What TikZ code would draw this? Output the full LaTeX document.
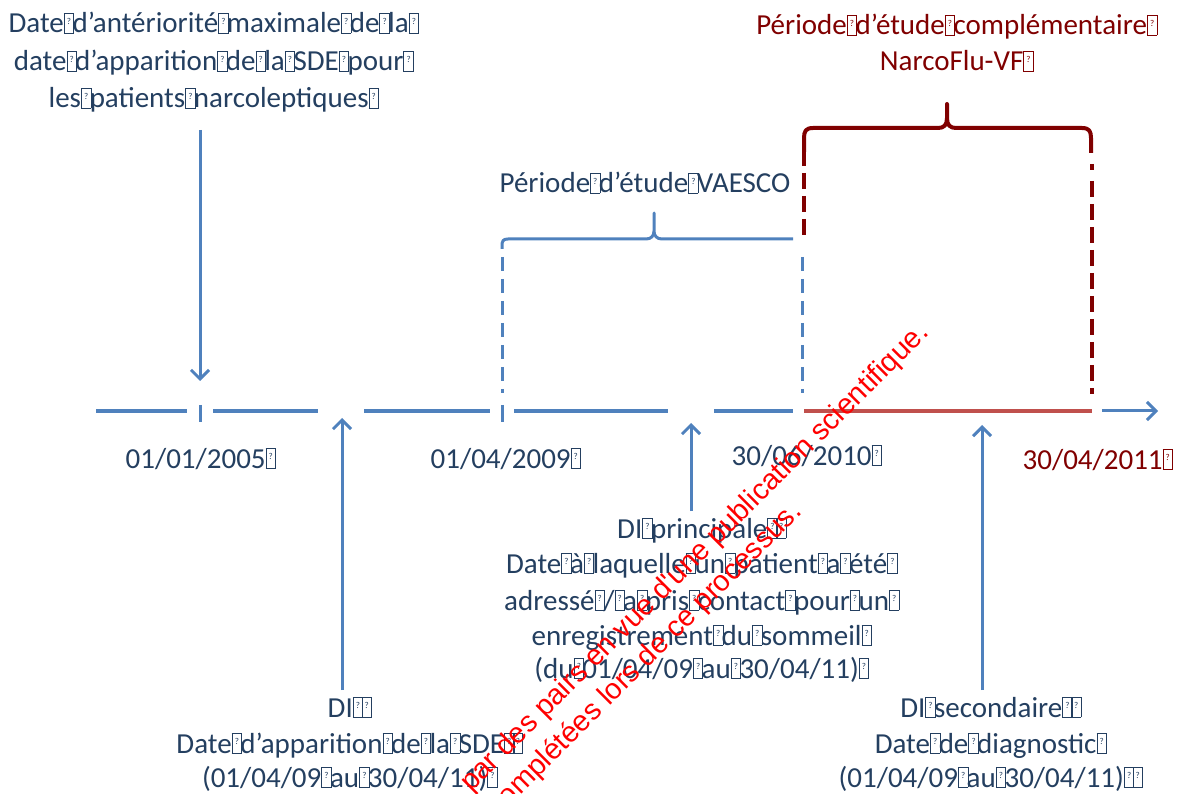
\documentclass[tikz,border=0pt]{standalone}
\usepackage{fontspec}
\setmainfont{Carlito}
\newfontfamily\wmfont{Liberation Sans}
\usetikzlibrary{arrows.meta}
\definecolor{tblue}{HTML}{243F60}
\definecolor{lblue}{HTML}{4F81BD}
\definecolor{lred}{HTML}{C0504D}
\definecolor{dred}{HTML}{800000}
\definecolor{wred}{HTML}{FF0000}
\newcommand\qb{\makebox[0.3em][l]{\setlength{\fboxsep}{0pt}\setlength{\fboxrule}{0.8pt}\fbox{\makebox[0.3em]{\rule{0pt}{0.66em}\raisebox{0.28em}{\fontsize{9}{9}\selectfont ?}}}}}
\begin{document}
\begin{tikzpicture}[x=1pt,y=-1pt,
  lbl/.style={font=\fontsize{29}{35}\selectfont, text=tblue, inner sep=0pt, anchor=base},
  tline/.style={line width=4pt, draw=lblue},
  rline/.style={line width=4pt, draw=lred},
  arr/.style={line width=3pt, draw=lblue, -{Straight Barb[length=9pt,width=18pt]}},
  bdash/.style={line width=3pt, draw=lblue, dash pattern=on 14pt off 8pt},
  rdash/.style={line width=3.5pt, draw=dred, dash pattern=on 16pt off 7pt},
  bbrace/.style={line width=3pt, draw=lblue, line join=round},
  rbrace/.style={line width=4pt, draw=dred, line join=round},
  wm/.style={font=\wmfont\fontsize{29}{29}\selectfont, text=wred, inner sep=0pt, anchor=base east, rotate=45}]
\useasboundingbox (0,0) rectangle (1179,794);
\clip (0,0) rectangle (1179,794);

% timeline
\draw[tline] (96,411) -- (187,411);
\draw[tline] (213,411) -- (318,411);
\draw[tline] (364,411) -- (490,411);
\draw[tline] (514,411) -- (668,411);
\draw[tline] (714,411) -- (793,411);
\draw[rline] (804,411) -- (1092,411);
\coordinate (tls) at (1102,411);
\coordinate (tle) at (1158,411);
\draw[arr] (tls) -- (tle);

% ticks
\draw[line width=3pt, draw=lblue] (200,405) -- (200,422);
\draw[line width=3pt, draw=lblue] (502,405) -- (502,422);

% dashed verticals
\draw[bdash] (502,257) -- (502,393);
\draw[bdash] (802,257) -- (802,393);
\draw[rdash] (804,150) -- (804,240);
\draw[line width=3.5pt, draw=dred] (1092,164) -- (1092,170);
\draw[rdash] (1092,181) -- (1092,394);

% blue brace
\draw[bbrace] (502,249) -- (502,246) .. controls (502,241) and (503,239) .. (508,239)
  -- (646,239) .. controls (651,239) and (654,236) .. (654,231) -- (654,213)
  -- (654,231) .. controls (654,236) and (657,239) .. (662,239) -- (793,239);

% red brace
\draw[rbrace] (804,152) -- (804,138) .. controls (804,131) and (806,128) .. (813,128)
  -- (938,128) .. controls (944,128) and (947,125) .. (947,118) -- (947,104)
  -- (947,118) .. controls (947,125) and (950,128) .. (956,128)
  -- (1082,128) .. controls (1089,128) and (1091,131) .. (1091,138) -- (1091,153);

% texts
\node[lbl] (tl1) at (213,33) {Date\qb d’antériorité\qb maximale\qb de\qb la\qb};
\node[lbl] (tl2) at (213,71) {date\qb d’apparition\qb de\qb la\qb SDE\qb pour\qb};
\node[lbl] (tl3) at (213,108) {les\qb patients\qb narcoleptiques\qb};

\node[lbl,text=dred] (rt1) at (956,35) {Période\qb d’étude\qb complémentaire\qb};
\node[lbl,text=dred] (rt2) at (956,71) {NarcoFlu-VF\qb};

\node[lbl] (va) at (645,193) {Période\qb d’étude\qb VAESCO};

\node[lbl] (d1) at (200,468) {01/01/2005\qb};
\node[lbl] (d2) at (505,468) {01/04/2009\qb};
\node[lbl] (d3) at (806,465) {30/06/2010\qb};
\node[lbl,text=dred] (d4) at (1097,469) {30/04/2011\qb};

\node[lbl] (p1) at (701,538) {DI\qb principale\qb\qb};
\node[lbl] (p2) at (701,573) {Date\qb à\qb laquelle\qb un\qb patient\qb a\qb été\qb};
\node[lbl] (p3) at (701,610) {adressé\qb/\qb a\qb pris\qb contact\qb pour\qb un\qb};
\node[lbl] (p4) at (701,645) {enregistrement\qb du\qb sommeil\qb};
\node[lbl] (p5) at (701,678) {(du\qb 01/04/09\qb au\qb 30/04/11)\qb};

\node[lbl] (q1) at (349,717) {DI\qb\qb};
\node[lbl] (q2) at (349,753) {Date\qb d’apparition\qb de\qb la\qb SDE\qb\qb};
\node[lbl] (q3) at (349,787) {(01/04/09\qb au\qb 30/04/11)\qb};

\node[lbl] (s1) at (990,717) {DI\qb secondaire\qb\qb};
\node[lbl] (s2) at (990,753) {Date\qb de\qb diagnostic\qb};
\node[lbl] (s3) at (990,787) {(01/04/09\qb au\qb 30/04/11)\qb\qb};

% arrows
\coordinate (a1s) at (200,130);
\coordinate (a1e) at (200,381);
\draw[arr] (a1s) -- (a1e);
\coordinate (a2s) at (342,690);
\coordinate (a2e) at (342,418);
\draw[arr] (a2s) -- (a2e);
\coordinate (a3s) at (691,511);
\coordinate (a3e) at (691,423);
\draw[arr] (a3s) -- (a3e);
\coordinate (a4s) at (982,690);
\coordinate (a4e) at (982,425);
\draw[arr] (a4s) -- (a4e);

% watermark
\node[wm] (w1) at (930,334) {par des pairs en vue d\textquotesingle une publication scientifique.};
\node[wm] (w2) at (803,513) {complétées lors de ce processus.};
\end{tikzpicture}
\end{document}
